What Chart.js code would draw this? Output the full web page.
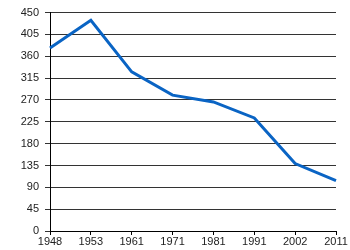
<!DOCTYPE html>
<html>
<head>
<meta charset="utf-8">
<script src="https://cdn.jsdelivr.net/npm/chart.js@4"></script>
<style>
  html, body { margin: 0; padding: 0; background: #fff; }
  #wrap { width: 350px; height: 250px; }
</style>
</head>
<body>
<div id="wrap"><canvas id="chart"></canvas></div>
<script>
// Years along the bottom axis
const years = ["1948", "1953", "1961", "1971", "1981", "1991", "2002", "2011"];

// Values
const values = [377, 434, 328, 280, 266, 233, 139, 104];

// Y axis range
const y_min = 0;
const y_max = 450;
const y_step = 45;

new Chart(document.getElementById("chart"), {
  type: "line",
  data: {
    labels: years,
    datasets: [{
      data: values,
      borderColor: "#0a64c4",
      borderWidth: 3,
      pointRadius: 0,
      tension: 0,
      fill: false
    }]
  },
  options: {
    responsive: true,
    maintainAspectRatio: false,
    animation: false,
    layout: { padding: { top: 11, right: 14, left: 0, bottom: 0 } },
    plugins: {
      legend: { display: false },
      tooltip: { enabled: false }
    },
    scales: {
      x: {
        offset: false,
        grid: {
          drawOnChartArea: false,
          drawTicks: true,
          tickLength: 4,
          color: "#000"
        },
        border: { color: "#000", width: 1 },
        ticks: {
          color: "#222",
          font: { family: "Liberation Sans, Arial", size: 11 },
          padding: 0,
          maxRotation: 0,
          autoSkip: false
        },
        afterFit: (scale) => { scale.height = 19; }
      },
      y: {
        min: y_min,
        max: y_max,
        grid: {
          color: "#333",
          lineWidth: 1,
          drawTicks: true,
          tickLength: 5
        },
        border: { color: "#000", width: 1 },
        ticks: {
          stepSize: y_step,
          color: "#222",
          font: { family: "Liberation Sans, Arial", size: 11 },
          padding: 6
        },
        afterFit: (scale) => { scale.width = 50; }
      }
    }
  }
});
</script>
</body>
</html>
